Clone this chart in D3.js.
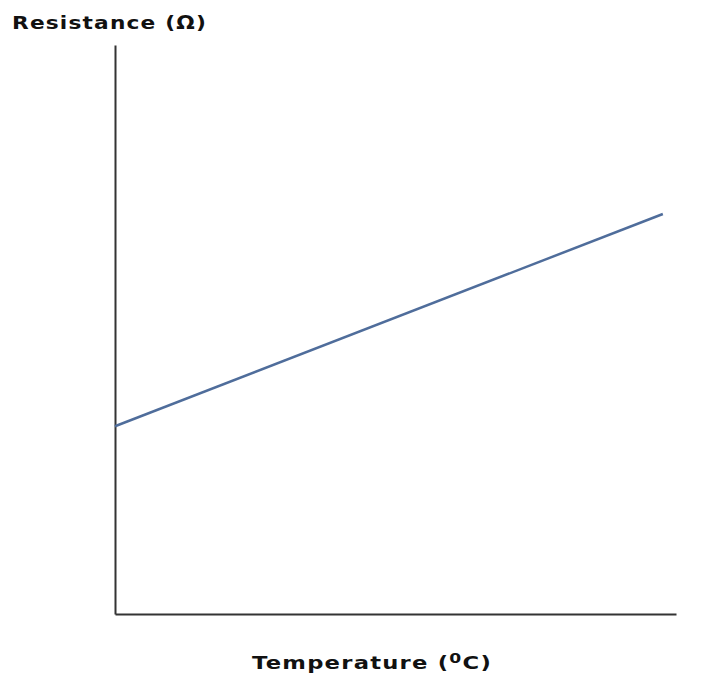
<!DOCTYPE html>
<html>
<head>
<meta charset="utf-8">
<script src="https://cdn.jsdelivr.net/npm/d3@7"></script>
<style>
  html, body { margin: 0; padding: 0; background: #fff; }
  svg { display: block; }
</style>
</head>
<body>
<svg id="chart" width="704" height="694"></svg>
<script>
// Data
const temperatures = [0, 100];
const resistances = [33.0, 70.3];
const xDomain = [0, 102.4];
const yDomain = [0, 100];
const yTitle = "Resistance (\u03A9)";
const xTitle = "Temperature (";

(function () {
const svg = d3.select("#chart");
const mLeft = 115, mRight = 676, mTop = 45, mBottom = 614;

const x = d3.scaleLinear().domain(xDomain).range([mLeft, mRight]);
const y = d3.scaleLinear().domain(yDomain).range([mBottom, mTop]);

// Axes (no ticks)
svg.append("g")
  .attr("transform", `translate(0,${mBottom})`)
  .call(d3.axisBottom(x).tickValues([]).tickSizeOuter(0))
  .call(g => g.select(".domain").attr("stroke", "#333").attr("stroke-width", 2));
svg.append("g")
  .attr("transform", `translate(${mLeft},0)`)
  .call(d3.axisLeft(y).tickValues([]).tickSizeOuter(0))
  .call(g => g.select(".domain").attr("stroke", "#333").attr("stroke-width", 2));

// Line
const pts = temperatures.map((t, i) => [t, resistances[i]]);
svg.append("path")
  .datum(pts)
  .attr("fill", "none")
  .attr("stroke", "#4f6d9b")
  .attr("stroke-width", 2.5)
  .attr("d", d3.line().x(d => x(d[0])).y(d => y(d[1])));

// Titles
svg.append("text")
  .attr("x", 12).attr("y", 29)
  .attr("font-family", "DejaVu Sans, Verdana, sans-serif")
  .attr("font-weight", "bold")
  .attr("font-size", 18.5)
  .attr("letter-spacing", 1)
  .attr("textLength", 195)
  .attr("lengthAdjust", "spacingAndGlyphs")
  .attr("fill", "#111")
  .text(yTitle);

const xt = svg.append("text")
  .attr("x", 252).attr("y", 669)
  .attr("font-family", "DejaVu Sans, Verdana, sans-serif")
  .attr("font-weight", "bold")
  .attr("font-size", 18.5)
  .attr("letter-spacing", 1)
  .attr("textLength", 240)
  .attr("lengthAdjust", "spacingAndGlyphs")
  .attr("fill", "#111");
xt.append("tspan").text(xTitle);
xt.append("tspan").attr("dy", -6).attr("font-size", 14).text("0");
xt.append("tspan").attr("dy", 6).text("C)");
})();
</script>
</body>
</html>
